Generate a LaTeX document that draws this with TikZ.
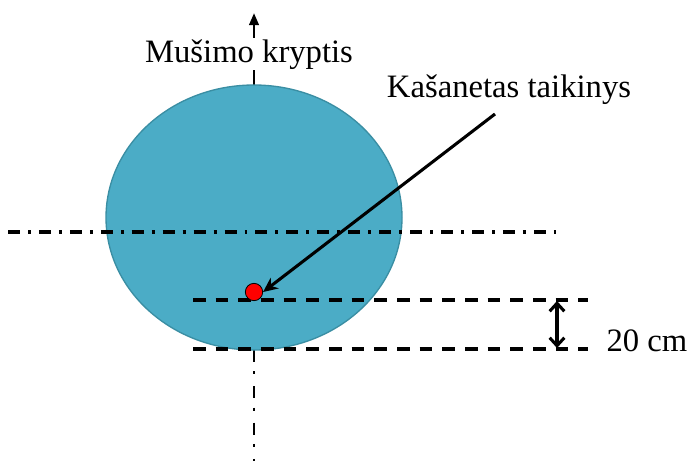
\documentclass[tikz,border=0pt]{standalone}
\usepackage{fontspec}
\setmainfont{Liberation Serif}
\usetikzlibrary{arrows.meta}
\definecolor{targetfill}{HTML}{4BACC6}
\definecolor{targetedge}{HTML}{3A8EA3}
\tikzset{
  lbl/.style={font=\fontsize{24.5pt}{28pt}\selectfont, inner sep=1pt, anchor=base},
  dashdotline/.style={line width=2.8pt, dash pattern=on 9pt off 6pt on 2.2pt off 6pt},
  vdashdot/.style={line width=2pt, dash pattern=on 9pt off 7pt on 2.2pt off 9pt},
  dashline/.style={line width=2.8pt, dash pattern=on 9.5pt off 7.5pt},
  pointer/.style={line width=2.3pt, -{Stealth[length=11pt,width=10pt]}},
  dimarrow/.style={line width=2.3pt, {Straight Barb[length=6pt,width=11pt]}-{Straight Barb[length=6pt,width=11pt]}},
}
\begin{document}
\begin{tikzpicture}[x=0.75pt,y=-0.75pt]
\useasboundingbox (0,0) rectangle (691,461);
% direction axis (below ellipse)
\coordinate (axbot) at (254,461);
\coordinate (axlow) at (254,350);
\draw[vdashdot] (axlow) -- (axbot);
% direction arrow (above ellipse)
\coordinate (axtop) at (254,85);
\coordinate (axtip) at (254,13);
\draw[line width=2pt, -{Triangle[length=9pt,width=7pt]}] (axtop) -- (axtip);
% target ellipse
\filldraw[fill=targetfill, draw=targetedge, line width=1pt] (254,217.5) ellipse [x radius=148, y radius=132.5];
% horizontal dash-dot centre line
\coordinate (hl) at (8,232);
\coordinate (hr) at (556,232);
\draw[dashdotline] (hl) -- (hr);
% dashed lines
\coordinate (d1l) at (193,300);
\coordinate (d1r) at (588,300);
\coordinate (d2l) at (193,349);
\coordinate (d2r) at (588,349);
\draw[dashline] (d1l) -- (d1r);
\draw[dashline] (d2l) -- (d2r);
% dimension arrow
\coordinate (dimtop) at (557,301);
\coordinate (dimbot) at (557,348);
\draw[dimarrow] (dimtop) -- (dimbot);
% red dot
\node[circle, fill=red, draw=black, line width=0.6pt, minimum size=13pt, inner sep=0pt] (dot) at (254,292) {};
% labels
\node[lbl, fill=white] (dir) at (249,62) {Mušimo kryptis};
\node[lbl] (tgt) at (509,97) {Kašanetas taikinys};
\node[lbl] (dist) at (647,351) {20 cm};
% pointer arrow
\coordinate (pstart) at (495,114);
\draw[pointer] (pstart) -- (dot.east);
\end{tikzpicture}
\end{document}
